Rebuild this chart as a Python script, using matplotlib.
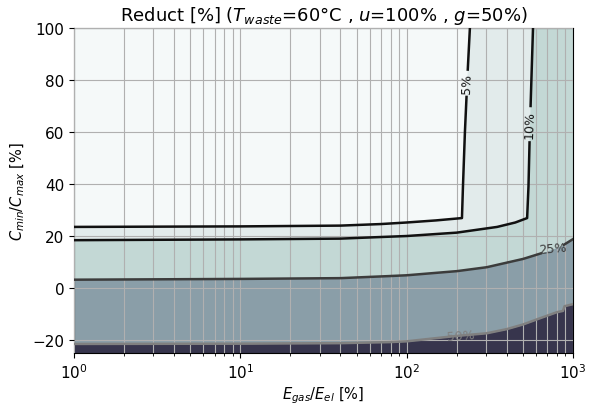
import numpy as np
import matplotlib
matplotlib.use("Agg")
import matplotlib.pyplot as plt

# contour curves (x = Egas/Eel [%], y = Cmin/Cmax [%])
x5 = [1, 10, 40, 70, 100, 150, 215, 218, 224, 229, 233, 240]
y5 = [23.5, 23.7, 24.0, 24.6, 25.2, 26.0, 26.9, 39, 60, 73.5, 84, 100]

x10 = [1, 10, 40, 69, 100, 200, 350, 450, 530, 540, 548, 556, 575]
y10 = [18.4, 18.7, 19.0, 19.6, 20.0, 21.3, 23.5, 25.2, 26.9, 39, 56, 70, 100]

x25 = [1, 10, 40, 79, 100, 201, 303, 502, 640, 880, 1000]
y25 = [3.2, 3.5, 3.8, 4.6, 4.9, 6.5, 8.0, 11.2, 13.3, 16.6, 18.8]

x50 = [1, 10, 40, 79, 100, 201, 303, 400, 502, 610, 800, 870, 890, 1000]
y50 = [-21.5, -21.4, -21.2, -20.8, -20.5, -18.4, -17.4, -15.8, -14.0, -12.0, -9.3, -8.8, -7.0, -6.2]

levels = ['5%', '10%', '25%', '50%']

fill_cols = ['#f5f9f9', '#e2ebeb', '#c3d8d5', '#8a9ea8', '#37354d']
line_cols = ['#111111', '#111111', '#3c3c3c', '#808080']

xmin, xmax, ymin, ymax = 1, 1000, -25, 100

fig = plt.figure(figsize=(5.95, 4.06), dpi=100)
ax = fig.add_axes([0.1244, 0.128, 0.8386, 0.8006])
ax.set_xscale('log')

# filled regions
ax.fill([xmin, xmax, xmax, xmin], [ymin, ymin, ymax, ymax], color=fill_cols[0], lw=0, zorder=1)
ax.fill(x5 + [xmax, xmax, xmin], y5 + [ymax, ymin, ymin], color=fill_cols[1], lw=0, zorder=1)
ax.fill(x10 + [xmax, xmax, xmin], y10 + [ymax, ymin, ymin], color=fill_cols[2], lw=0, zorder=1)
ax.fill_between(x25, ymin, y25, color=fill_cols[3], lw=0, zorder=1)
ax.fill_between(x50, ymin, y50, color=fill_cols[4], lw=0, zorder=1)

# contour lines, with gaps for the inline labels
ax.plot(x5[:10], y5[:10], color=line_cols[0], lw=1.8, zorder=3)
ax.plot(x5[10:], y5[10:], color=line_cols[0], lw=1.8, zorder=3)
ax.plot(x10[:11], y10[:11], color=line_cols[1], lw=1.8, zorder=3)
ax.plot(x10[11:], y10[11:], color=line_cols[1], lw=1.8, zorder=3)
ax.plot(x25[:9], y25[:9], color=line_cols[2], lw=1.8, zorder=3)
ax.plot(x25[9:], y25[9:], color=line_cols[2], lw=1.8, zorder=3)
ax.plot(x50, y50, color=line_cols[3], lw=1.8, zorder=3)

ax.text(231, 79, levels[0], rotation=88, ha='center', va='center', fontsize=9, color=line_cols[0], zorder=4)
ax.text(551, 63, levels[1], rotation=88, ha='center', va='center', fontsize=9, color=line_cols[1], zorder=4)
ax.text(750, 15.3, levels[2], rotation=5, ha='center', va='center', fontsize=9, color=line_cols[2], zorder=4)
ax.text(210, -18.2, levels[3], rotation=4, ha='center', va='center', fontsize=9, color=line_cols[3], zorder=4)

ax.set_xlim(xmin, xmax)
ax.set_ylim(ymin, ymax)
ax.set_yticks([-20, 0, 20, 40, 60, 80, 100])
ax.set_axisbelow(False)
ax.grid(True, which='major', color='#b0b0b0', lw=0.8)
ax.grid(True, which='minor', axis='x', color='#b0b0b0', lw=0.8)
ax.tick_params(labelsize=11)

ax.set_title('Reduct [%] ($T_{waste}$=60°C , $u$=100% , $g$=50%)', fontsize=13)
ax.set_xlabel('$E_{gas}/E_{el}$ [%]', fontsize=10.5, labelpad=2)
ax.set_ylabel('$C_{min}/C_{max}$ [%]', fontsize=10.5)

fig.savefig('out.png', dpi=100)
